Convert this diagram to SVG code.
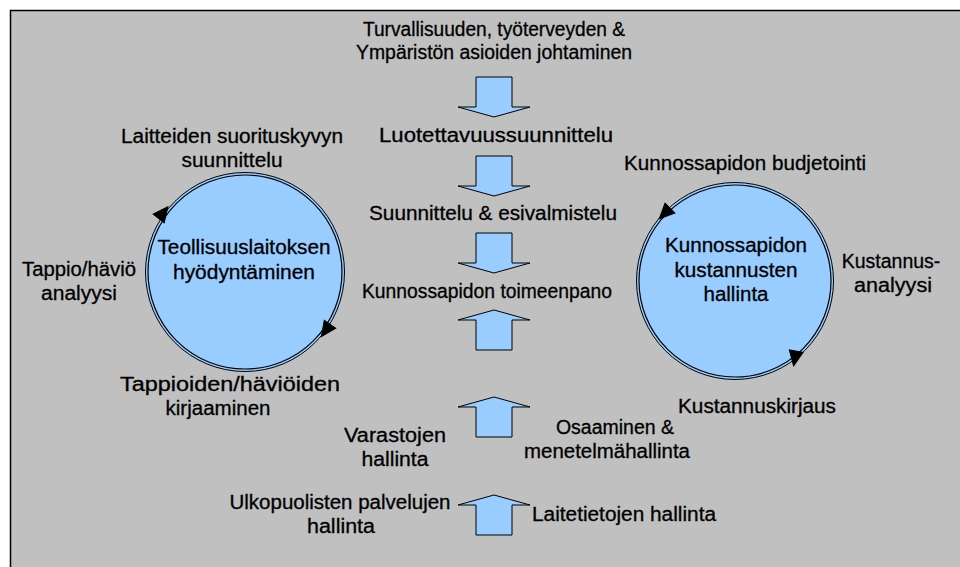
<svg xmlns="http://www.w3.org/2000/svg" width="960" height="567" viewBox="0 0 960 567">
<style>
text{font-family:"Liberation Sans",Arial,sans-serif;font-size:19.5px;fill:#000;stroke:#000;stroke-width:0.3;text-anchor:middle}
.big{font-size:20px}
.blk{fill:#99CCFF;stroke:#000;stroke-width:1}
.ring{fill:none;stroke:#000;stroke-width:1.2}
.ah{fill:#000;stroke:#000;stroke-width:1}
</style>
<defs>
<polygon id="head" points="8,0 -7,-7 -7,7"/>
<polygon id="down" points="476,0 512,0 512,30 530,30 494,40 458,30 476,30"/>
<polygon id="up" points="494,0 530,10 512,10 512,40 476,40 476,10 458,10"/>
</defs>
<rect x="0" y="0" width="960" height="567" fill="#fff"/>
<rect x="10.5" y="10.5" width="970" height="580" fill="#C0C0C0" stroke="#000" stroke-width="1.5"/>

<g id="left-cycle">
<circle cx="245" cy="272" r="99.5" class="blk"/>
<circle cx="245" cy="272" r="97" class="ring"/>
<use href="#head" class="ah" transform="translate(163,213) rotate(-52)"/>
<use href="#head" class="ah" transform="translate(326,330) rotate(125)"/>
<text class="big" x="244" y="254" textLength="173" lengthAdjust="spacingAndGlyphs">Teollisuuslaitoksen</text>
<text class="big" x="244" y="279" textLength="142" lengthAdjust="spacingAndGlyphs">hyödyntäminen</text>
</g>

<g id="right-cycle">
<circle cx="735" cy="281" r="98.5" class="blk"/>
<circle cx="735" cy="281" r="96" class="ring"/>
<use href="#head" class="ah" transform="translate(665,213) rotate(135)"/>
<use href="#head" class="ah" transform="translate(795,358) rotate(100)"/>
<text class="big" x="736" y="252" textLength="142" lengthAdjust="spacingAndGlyphs">Kunnossapidon</text>
<text class="big" x="736" y="277" textLength="123" lengthAdjust="spacingAndGlyphs">kustannusten</text>
<text class="big" x="736" y="301" textLength="65" lengthAdjust="spacingAndGlyphs">hallinta</text>
</g>

<g id="connectors">
<use href="#down" class="blk" transform="translate(0,77)"/>
<use href="#down" class="blk" transform="translate(0,156)"/>
<use href="#down" class="blk" transform="translate(0,233)"/>
<use href="#up" class="blk" transform="translate(0,310)"/>
<use href="#up" class="blk" transform="translate(0,397)"/>
<use href="#up" class="blk" transform="translate(0,495)"/>
</g>

<g id="top-mgmt">
<text x="494" y="36" textLength="262" lengthAdjust="spacingAndGlyphs">Turvallisuuden, työterveyden &amp;</text>
<text x="494" y="59" textLength="276" lengthAdjust="spacingAndGlyphs">Ympäristön asioiden johtaminen</text>
</g>
<g id="luotettavuus"><text x="496" y="142" textLength="234" lengthAdjust="spacingAndGlyphs">Luotettavuussuunnittelu</text></g>
<g id="suunnittelu"><text x="493" y="220" textLength="248" lengthAdjust="spacingAndGlyphs">Suunnittelu &amp; esivalmistelu</text></g>
<g id="toimeenpano"><text x="487" y="298" textLength="250" lengthAdjust="spacingAndGlyphs">Kunnossapidon toimeenpano</text></g>
<g id="laitteiden">
<text x="232" y="143" textLength="222" lengthAdjust="spacingAndGlyphs">Laitteiden suorituskyvyn</text>
<text x="232" y="167" textLength="101" lengthAdjust="spacingAndGlyphs">suunnittelu</text>
</g>
<g id="tappio-analyysi">
<text x="79" y="276" textLength="114" lengthAdjust="spacingAndGlyphs">Tappio/häviö</text>
<text x="79" y="300" textLength="76" lengthAdjust="spacingAndGlyphs">analyysi</text>
</g>
<g id="tappio-kirjaus">
<text x="230" y="391" textLength="220" lengthAdjust="spacingAndGlyphs">Tappioiden/häviöiden</text>
<text x="218" y="415" textLength="105" lengthAdjust="spacingAndGlyphs">kirjaaminen</text>
</g>
<g id="budjetointi"><text x="745" y="170" textLength="242" lengthAdjust="spacingAndGlyphs">Kunnossapidon budjetointi</text></g>
<g id="kustannusanalyysi">
<text x="891" y="268">Kustannus-</text>
<text x="893" y="292" textLength="78" lengthAdjust="spacingAndGlyphs">analyysi</text>
</g>
<g id="kustannuskirjaus"><text x="757" y="413" textLength="158" lengthAdjust="spacingAndGlyphs">Kustannuskirjaus</text></g>
<g id="osaaminen">
<text x="615" y="434">Osaaminen &amp;</text>
<text x="607" y="458" textLength="166" lengthAdjust="spacingAndGlyphs">menetelmähallinta</text>
</g>
<g id="varastot">
<text x="395" y="442" textLength="102" lengthAdjust="spacingAndGlyphs">Varastojen</text>
<text x="395" y="466" textLength="67" lengthAdjust="spacingAndGlyphs">hallinta</text>
</g>
<g id="ulkopuoliset">
<text x="340" y="509" textLength="221" lengthAdjust="spacingAndGlyphs">Ulkopuolisten palvelujen</text>
<text x="341" y="533" textLength="68" lengthAdjust="spacingAndGlyphs">hallinta</text>
</g>
<g id="laitetiedot"><text x="624" y="521" textLength="184" lengthAdjust="spacingAndGlyphs">Laitetietojen hallinta</text></g>
</svg>
